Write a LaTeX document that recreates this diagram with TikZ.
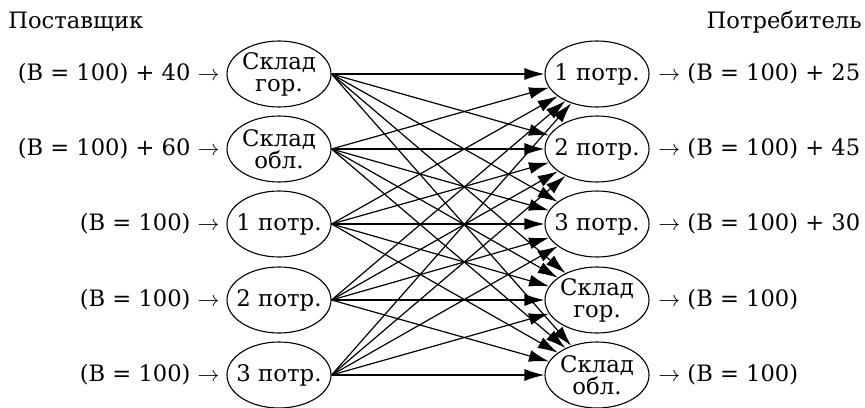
\documentclass[tikz,border=0pt]{standalone}
\usepackage{fontspec}
\setmainfont{DejaVu Serif}
\usetikzlibrary{shapes.geometric,arrows.meta}
\begin{document}
\begin{tikzpicture}[x=0.5pt,y=-0.5pt,
  lbl/.style={font=\fontsize{11.3}{13}\selectfont, inner sep=0pt},
  vert/.style={ellipse, draw, line width=0.55pt, inner xsep=-3.5pt, inner ysep=-2pt, minimum width=52pt, minimum height=33pt, align=center, font=\fontsize{11.4}{11}\selectfont},
  flow/.style={line width=0.6pt, -{Latex[length=10pt,width=6pt]}}]
\useasboundingbox (0,0) rectangle (865,407);
\node[lbl, anchor=west] (sup) at (8,22) {Поставщик};
\node[lbl, anchor=east] (con) at (862,22) {Потребитель};
% left column
\node[vert] (L1) at (279,74) {Склад\\гор.};
\node[vert] (L2) at (279,149) {Склад\\обл.};
\node[vert] (L3) at (279,224) {1 потр.};
\node[vert] (L4) at (279,300) {2 потр.};
\node[vert] (L5) at (279,375) {3 потр.};
% right column
\node[vert] (R1) at (597,74) {1 потр.};
\node[vert] (R2) at (597,149) {2 потр.};
\node[vert] (R3) at (597,224) {3 потр.};
\node[vert] (R4) at (597,300) {Склад\\гор.};
\node[vert] (R5) at (597,375) {Склад\\обл.};
% left labels
\node[lbl, anchor=east] (a1) at (220,74) {(В = 100) + 40 $\rightarrow$};
\node[lbl, anchor=east] (a2) at (220,149) {(В = 100) + 60 $\rightarrow$};
\node[lbl, anchor=east] (a3) at (220,224) {(В = 100) $\rightarrow$};
\node[lbl, anchor=east] (a4) at (220,300) {(В = 100) $\rightarrow$};
\node[lbl, anchor=east] (a5) at (220,375) {(В = 100) $\rightarrow$};
% right labels
\node[lbl, anchor=west] (b1) at (658,74) {$\rightarrow$ (В = 100) + 25};
\node[lbl, anchor=west] (b2) at (658,149) {$\rightarrow$ (В = 100) + 45};
\node[lbl, anchor=west] (b3) at (658,224) {$\rightarrow$ (В = 100) + 30};
\node[lbl, anchor=west] (b4) at (658,300) {$\rightarrow$ (В = 100)};
\node[lbl, anchor=west] (b5) at (658,375) {$\rightarrow$ (В = 100)};
% flows
\foreach \i in {1,...,5}{
  \foreach \j in {1,...,5}{
    \draw[flow] (L\i.east) -- (R\j);
  }
}
\end{tikzpicture}
\end{document}
